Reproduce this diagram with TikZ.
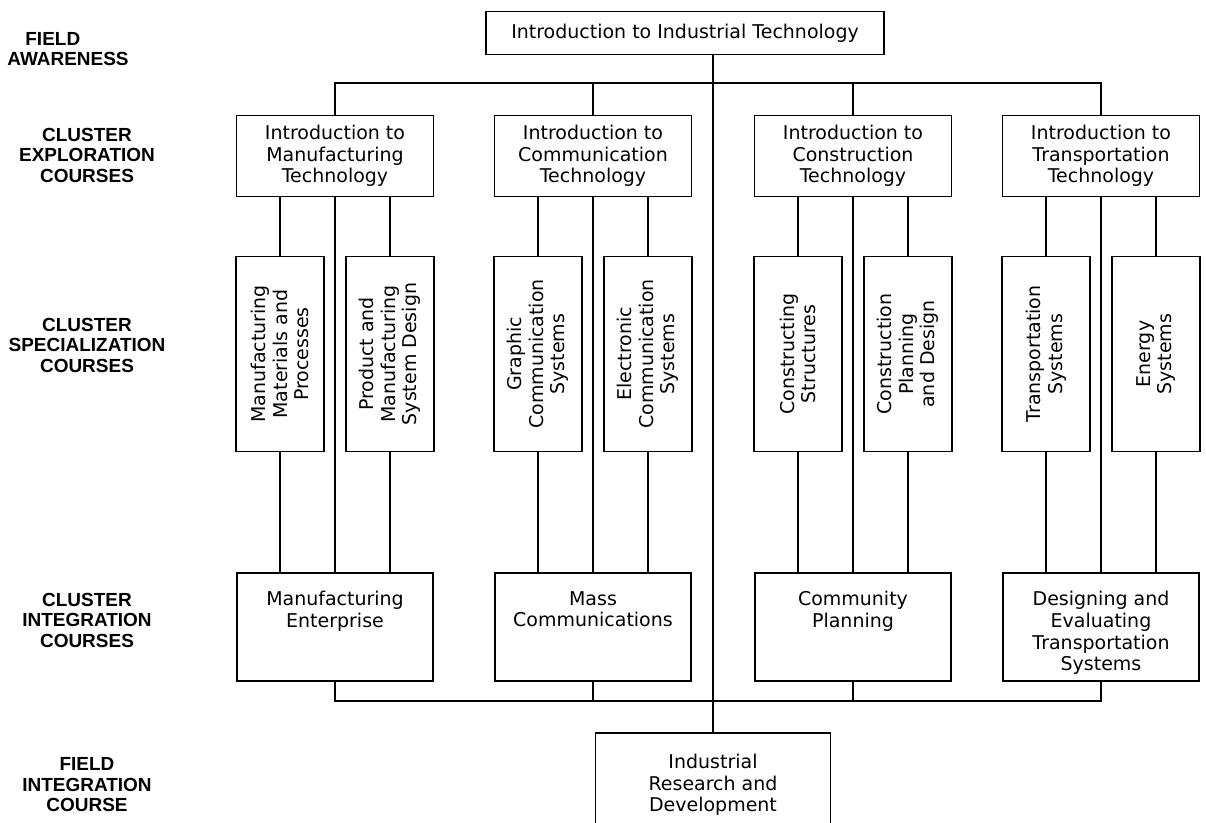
\documentclass[tikz,border=0pt]{standalone}
\usepackage{fontspec}
\setmainfont{DejaVu Sans}
\newfontfamily\levelfont{Liberation Sans}
\begin{document}
\begin{tikzpicture}[x=0.025cm, y=-0.025cm, line width=1.2pt,
  course/.style={draw, line width=1.2pt, align=center, inner sep=2pt, font=\fontsize{13.5}{15.4}\selectfont},
  expl/.style={course, minimum width=4.925cm, minimum height=2.025cm},
  spec/.style={course, rotate=90, minimum width=4.875cm, minimum height=2.2cm},
  integ/.style={course, minimum width=4.9cm, minimum height=2.7cm},
  integtext/.style={align=center, anchor=north, inner sep=0pt, yshift=-13pt, font=\fontsize{13.5}{15.4}\selectfont},
  level/.style={align=center, font=\levelfont\bfseries\fontsize{13.5}{14.6}\selectfont}]
\useasboundingbox (0,0) rectangle (1206,823);
\clip (0,0) rectangle (1206,823);
% level names on the left
\node[level] (lvfa) at (68,49) {FIELD\hspace*{1.6em}\\AWARENESS};
\node[level] (lvce) at (87,155) {CLUSTER\\EXPLORATION\\COURSES};
\node[level] (lvcs) at (87,345) {CLUSTER\\SPECIALIZATION\\COURSES};
\node[level] (lvci) at (87,620) {CLUSTER\\INTEGRATION\\COURSES};
\node[level] (lvfi) at (87,785) {FIELD\\INTEGRATION\\COURSE};
% field courses
\node[course, minimum width=9.95cm, minimum height=1.075cm] (intro) at (685,33) {Introduction to Industrial Technology};
\node[course, minimum width=5.875cm, minimum height=2.6cm] (ird) at (713,785) {Industrial\\Research and\\Development};
\coordinate (topbar) at (0,83);
\coordinate (botbar) at (0,701);
% the four clusters
\foreach \n/\x/\etext/\atext/\btext/\itext in {
  m/335/{Introduction to\\Manufacturing\\Technology}/{Manufacturing\\Materials and\\Processes}/{Product and\\Manufacturing\\System Design}/{Manufacturing\\Enterprise},
  c/593/{Introduction to\\Communication\\Technology}/{Graphic\\Communication\\Systems}/{Electronic\\Communication\\Systems}/{Mass\\Communications},
  k/853/{Introduction to\\Construction\\Technology}/{Constructing\\Structures}/{Construction\\Planning\\and Design}/{Community\\Planning},
  t/1101/{Introduction to\\Transportation\\Technology}/{Transportation\\Systems}/{Energy\\Systems}/{Designing and\\Evaluating\\Transportation\\Systems}}
{
  \node[expl] (e\n) at (\x,156) {\etext};
  \node[spec] (a\n) at (\x-55,354) {\atext};
  \node[spec] (b\n) at (\x+55,354) {\btext};
  \node[integ, label={[integtext]north:\itext}] (i\n) at (\x,627) {};
  \draw (e\n.south) -- (i\n.north);
  \draw (e\n.south -| a\n) -- (a\n.east);
  \draw (a\n.west) -- (a\n.west |- i\n.north);
  \draw (e\n.south -| b\n) -- (b\n.east);
  \draw (b\n.west) -- (b\n.west |- i\n.north);
  \draw (e\n.north) -- (e\n.north |- topbar);
  \draw (i\n.south) -- (i\n.south |- botbar);
}
\draw (em.north) |- (et.north |- topbar) -- (et.north);
\draw (im.south) |- (it.south |- botbar) -- (it.south);
\draw (intro.south -| ird.north) -- (ird.north);
\end{tikzpicture}
\end{document}
